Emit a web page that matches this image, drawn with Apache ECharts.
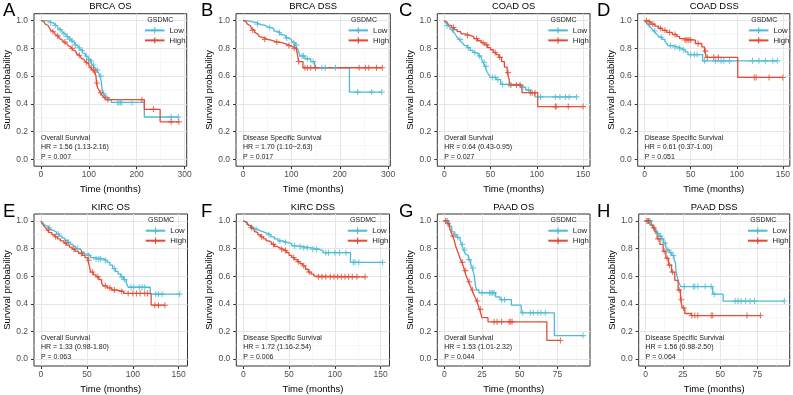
<!DOCTYPE html>
<html><head><meta charset="utf-8">
<script src="https://cdn.jsdelivr.net/npm/echarts@6/dist/echarts.min.js"></script>
<style>html,body{margin:0;padding:0;background:#fff}#c{width:793px;height:395px}</style>
</head><body><div id="c"></div>
<script>
// ---------- text ----------
const panelLetters = ['A','B','C','D','E','F','G','H'];
const panelTitles = ['BRCA OS','BRCA DSS','COAD OS','COAD DSS','KIRC OS','KIRC DSS','PAAD OS','PAAD DSS'];
const survivalLabels = ['Overall Survival','Disease Specific Survival','Overall Survival','Disease Specific Survival','Overall Survival','Disease Specific Survival','Overall Survival','Disease Specific Survival'];
const hrLabels = ['HR = 1.56 (1.13-2.16)','HR = 1.70 (1.10\u22122.63)','HR = 0.64 (0.43-0.95)','HR = 0.61 (0.37-1.00)','HR = 1.33 (0.98-1.80)','HR = 1.72 (1.16-2.54)','HR = 1.53 (1.01-2.32)','HR = 1.56 (0.98-2.50)'];
const pLabels = ['P = 0.007','P = 0.017','P = 0.027','P = 0.051','P = 0.063','P = 0.006','P = 0.044','P = 0.064'];
const groupNames = ['Low','High'];
const legendTitle = 'GSDMC';
const xAxisTitle = 'Time (months)';
const yAxisTitle = 'Survival probability';

// ---------- ticks ----------
const xTicks300 = [0,100,200,300];
const xMinor300 = [50,150,250];
const xTicks150 = [0,50,100,150];
const xMinor150 = [25,75,125];
const xTicks75 = [0,25,50,75];
const xMinor75 = [12.5,37.5,62.5,87.5];
const yTicks = [0,0.2,0.4,0.6,0.8,1.0];
const yMinor = [0.1,0.3,0.5,0.7,0.9];

// ---------- data: [time, survival] steps and censor marks ----------
const brcaOsLow = [[0,1],[14,0.995],[18,0.99],[21,0.985],[24,0.98],[27,0.97],[30,0.965],[33,0.955],[36,0.945],[39,0.935],[42,0.925],[45,0.915],[48,0.905],[51,0.895],[54,0.885],[57,0.875],[60,0.865],[63,0.855],[66,0.845],[69,0.835],[72,0.825],[75,0.815],[78,0.805],[81,0.795],[84,0.785],[87,0.77],[90,0.76],[93,0.745],[96,0.735],[99,0.72],[102,0.71],[105,0.695],[108,0.68],[112,0.665],[116,0.645],[120,0.625],[123,0.6],[126,0.565],[128,0.5],[130,0.475],[133,0.46],[137,0.445],[142,0.43],[147,0.41],[216,0.305],[287,0.305]];
const brcaOsLowCens = [[20,0.985],[30,0.965],[40,0.935],[48,0.905],[55,0.885],[60,0.865],[65,0.855],[72,0.825],[80,0.805],[86,0.785],[95,0.745],[100,0.72],[104,0.71],[110,0.68],[118,0.645],[125,0.6],[131,0.475],[138,0.445],[160,0.41],[163,0.41],[166,0.41],[169,0.41],[190,0.41],[272,0.305],[287,0.305]];
const brcaOsHigh = [[0,1],[3,0.995],[6,0.985],[9,0.975],[12,0.965],[15,0.955],[18,0.945],[21,0.93],[24,0.92],[27,0.91],[30,0.9],[33,0.89],[36,0.88],[39,0.87],[42,0.86],[45,0.855],[48,0.845],[51,0.835],[54,0.83],[57,0.82],[60,0.81],[63,0.8],[66,0.79],[69,0.78],[72,0.77],[75,0.76],[78,0.75],[81,0.74],[84,0.73],[87,0.72],[90,0.71],[93,0.7],[96,0.69],[100,0.675],[104,0.66],[108,0.645],[112,0.63],[115,0.6],[116,0.55],[118,0.52],[121,0.5],[124,0.48],[128,0.46],[132,0.445],[136,0.43],[216,0.36],[249,0.27],[288,0.27]];
const brcaOsHighCens = [[25,0.92],[35,0.89],[50,0.845],[65,0.8],[80,0.75],[95,0.7],[105,0.66],[110,0.645],[113,0.63],[117,0.55],[125,0.48],[134,0.445],[140,0.43],[211,0.43],[235,0.36],[272,0.27],[288,0.27]];

const brcaDssLow = [[0,1],[8,0.995],[15,0.99],[22,0.985],[28,0.975],[34,0.97],[40,0.965],[46,0.955],[52,0.95],[58,0.94],[64,0.925],[70,0.915],[76,0.9],[82,0.89],[88,0.875],[94,0.865],[100,0.85],[104,0.84],[108,0.825],[112,0.8],[115,0.775],[118,0.745],[128,0.725],[140,0.705],[148,0.66],[220,0.485],[287,0.485]];
const brcaDssLowCens = [[30,0.975],[55,0.95],[75,0.915],[90,0.875],[105,0.84],[110,0.825],[122,0.745],[125,0.745],[133,0.725],[145,0.705],[163,0.66],[170,0.66],[191,0.66],[237,0.485],[266,0.485],[287,0.485]];
const brcaDssHigh = [[0,1],[3,0.995],[6,0.985],[9,0.975],[12,0.965],[15,0.955],[18,0.94],[21,0.93],[24,0.915],[27,0.905],[30,0.895],[34,0.885],[38,0.875],[44,0.865],[50,0.86],[58,0.85],[66,0.845],[74,0.84],[82,0.83],[90,0.82],[98,0.81],[104,0.8],[110,0.79],[113,0.745],[115,0.705],[124,0.66],[288,0.66]];
const brcaDssHighCens = [[20,0.93],[45,0.865],[70,0.845],[95,0.82],[106,0.8],[115,0.705],[128,0.66],[133,0.66],[140,0.66],[150,0.66],[240,0.66],[253,0.66],[260,0.66],[276,0.66],[288,0.66]];

const coadOsLow = [[0,1],[1,0.99],[2,0.98],[4,0.965],[6,0.95],[8,0.935],[10,0.92],[12,0.9],[14,0.88],[16,0.865],[18,0.85],[20,0.835],[22,0.82],[25,0.805],[28,0.785],[31,0.77],[34,0.76],[37,0.745],[40,0.725],[42,0.7],[44,0.67],[46,0.635],[48,0.61],[50,0.59],[56,0.575],[61,0.54],[82,0.52],[88,0.5],[93,0.48],[98,0.45],[143,0.45]];
const coadOsLowCens = [[3,0.965],[9,0.935],[17,0.865],[26,0.805],[33,0.77],[38,0.745],[43,0.7],[45,0.67],[52,0.59],[55,0.59],[58,0.575],[63,0.54],[70,0.54],[85,0.52],[91,0.5],[104,0.45],[120,0.45],[125,0.45],[131,0.45],[135,0.45],[143,0.45]];
const coadOsHigh = [[0,1],[1,0.99],[3,0.98],[5,0.965],[8,0.95],[11,0.935],[14,0.92],[18,0.905],[22,0.895],[27,0.885],[32,0.87],[36,0.855],[40,0.84],[44,0.825],[47,0.805],[50,0.79],[53,0.77],[56,0.755],[59,0.735],[62,0.705],[65,0.665],[68,0.625],[70,0.58],[71,0.535],[84,0.48],[101,0.38],[150,0.38]];
const coadOsHighCens = [[10,0.95],[25,0.895],[35,0.87],[42,0.84],[46,0.825],[55,0.77],[60,0.735],[69,0.625],[72,0.535],[78,0.535],[82,0.535],[93,0.48],[95,0.48],[98,0.48],[120,0.38],[121,0.38],[134,0.38],[150,0.38]];

const coadDssLow = [[0,1],[2,0.985],[4,0.97],[6,0.955],[8,0.94],[10,0.925],[12,0.91],[14,0.895],[16,0.88],[19,0.865],[22,0.85],[24,0.835],[26,0.82],[30,0.81],[36,0.8],[40,0.79],[44,0.775],[47,0.755],[63,0.71],[144,0.71]];
const coadDssLowCens = [[5,0.97],[11,0.925],[18,0.88],[28,0.82],[33,0.81],[38,0.8],[42,0.79],[50,0.755],[54,0.755],[57,0.755],[65,0.71],[77,0.71],[83,0.71],[86,0.71],[92,0.71],[117,0.71],[124,0.71],[131,0.71],[139,0.71],[144,0.71]];
const coadDssHigh = [[0,1],[3,0.99],[7,0.975],[11,0.96],[15,0.945],[19,0.93],[24,0.915],[30,0.9],[35,0.885],[38,0.87],[42,0.86],[55,0.835],[62,0.81],[65,0.78],[67,0.735],[101,0.59],[150,0.59]];
const coadDssHighCens = [[2,1],[5,0.99],[9,0.975],[17,0.945],[22,0.93],[27,0.915],[33,0.9],[44,0.86],[46,0.86],[48,0.86],[50,0.86],[58,0.835],[66,0.78],[68,0.735],[75,0.735],[80,0.735],[119,0.59],[121,0.59],[135,0.59],[150,0.59]];

const kircOsLow = [[0,1],[2,0.985],[4,0.97],[6,0.96],[8,0.95],[10,0.94],[12,0.93],[14,0.92],[17,0.905],[20,0.89],[23,0.875],[26,0.86],[29,0.845],[32,0.83],[35,0.815],[38,0.8],[41,0.79],[44,0.775],[47,0.76],[50,0.75],[54,0.735],[58,0.725],[68,0.715],[72,0.7],[75,0.68],[78,0.655],[81,0.635],[84,0.615],[87,0.595],[90,0.575],[93,0.55],[95,0.52],[119,0.47],[151,0.47]];
const kircOsLowCens = [[9,0.95],[19,0.905],[30,0.845],[40,0.8],[52,0.75],[60,0.725],[63,0.725],[65,0.725],[70,0.715],[80,0.655],[88,0.595],[91,0.575],[98,0.52],[101,0.52],[107,0.52],[110,0.52],[113,0.52],[125,0.47],[128,0.47],[132,0.47],[151,0.47]];
const kircOsHigh = [[0,1],[1,0.985],[3,0.965],[5,0.95],[7,0.935],[9,0.915],[12,0.9],[15,0.885],[18,0.87],[21,0.855],[25,0.84],[28,0.825],[31,0.81],[34,0.795],[37,0.78],[41,0.765],[45,0.75],[48,0.735],[51,0.715],[53,0.665],[54,0.63],[57,0.61],[60,0.595],[63,0.575],[66,0.55],[68,0.53],[72,0.515],[77,0.5],[82,0.49],[90,0.475],[120,0.39],[135,0.39]];
const kircOsHighCens = [[8,0.935],[16,0.885],[27,0.84],[36,0.795],[44,0.765],[52,0.715],[56,0.63],[62,0.595],[70,0.53],[75,0.515],[80,0.5],[88,0.49],[95,0.475],[100,0.475],[104,0.475],[108,0.475],[113,0.475],[116,0.475],[124,0.39],[128,0.39],[135,0.39]];

const kircDssLow = [[0,1],[2,0.99],[4,0.98],[6,0.97],[8,0.96],[10,0.95],[12,0.94],[15,0.93],[18,0.92],[22,0.91],[26,0.9],[30,0.885],[34,0.87],[38,0.855],[43,0.845],[48,0.835],[53,0.82],[58,0.815],[64,0.805],[74,0.795],[83,0.785],[87,0.77],[117,0.7],[152,0.7]];
const kircDssLowCens = [[14,0.94],[28,0.9],[40,0.855],[46,0.845],[56,0.82],[62,0.815],[66,0.805],[70,0.805],[76,0.795],[80,0.795],[90,0.77],[93,0.77],[100,0.77],[105,0.77],[112,0.77],[120,0.7],[122,0.7],[126,0.7],[152,0.7]];
const kircDssHigh = [[0,1],[2,0.99],[4,0.975],[6,0.965],[8,0.95],[10,0.94],[12,0.925],[14,0.915],[16,0.9],[19,0.885],[22,0.87],[25,0.855],[28,0.845],[31,0.83],[34,0.815],[37,0.805],[40,0.795],[44,0.785],[47,0.77],[50,0.75],[53,0.735],[56,0.72],[59,0.705],[62,0.69],[65,0.675],[68,0.65],[71,0.63],[74,0.615],[77,0.6],[80,0.595],[133,0.595]];
const kircDssHighCens = [[9,0.95],[20,0.885],[33,0.83],[42,0.795],[46,0.785],[55,0.735],[60,0.705],[66,0.675],[72,0.63],[82,0.595],[86,0.595],[90,0.595],[95,0.595],[99,0.595],[103,0.595],[107,0.595],[111,0.595],[115,0.595],[119,0.595],[124,0.595],[133,0.595]];

const paadOsLow = [[0,1],[3,0.96],[5,0.92],[7,0.9],[8.5,0.88],[10.5,0.86],[11.5,0.83],[12.8,0.79],[14,0.76],[15,0.75],[16,0.72],[17.5,0.69],[18.5,0.66],[19.5,0.62],[20.2,0.58],[20.7,0.53],[21.5,0.5],[23,0.48],[34,0.45],[37,0.43],[44.5,0.39],[51,0.335],[73,0.17],[92,0.17]];
const paadOsLowCens = [[1,1],[2,1],[9,0.88],[12,0.83],[13.5,0.79],[16.5,0.72],[19,0.66],[25,0.48],[30,0.48],[31,0.48],[32,0.48],[33,0.48],[38,0.43],[40,0.43],[52,0.335],[57,0.335],[59,0.335],[62,0.335],[64,0.335],[67,0.335],[92,0.17]];
const paadOsHigh = [[0,1],[2,0.98],[3.5,0.95],[4.5,0.92],[5.5,0.89],[6.6,0.86],[7.5,0.82],[8.5,0.79],[9.5,0.76],[10.5,0.73],[11.7,0.7],[12.7,0.67],[13.5,0.64],[14.3,0.61],[15.2,0.585],[16.2,0.56],[17.2,0.53],[18.3,0.5],[19.5,0.47],[20.5,0.445],[21.5,0.42],[22.5,0.39],[23.4,0.36],[24.2,0.33],[25,0.3],[29,0.27],[68,0.135],[77,0.135]];
const paadOsHighCens = [[1,1],[2.5,0.98],[6,0.89],[12,0.7],[14,0.64],[16.5,0.56],[18.8,0.5],[22,0.42],[24,0.36],[33,0.27],[35,0.27],[38,0.27],[43,0.27],[44,0.27],[45,0.27],[77,0.135]];

const paadDssLow = [[0,1],[4,0.97],[5.5,0.94],[7,0.91],[9,0.89],[10.5,0.87],[12,0.84],[13.5,0.81],[14.5,0.79],[16,0.77],[17.5,0.75],[19,0.72],[20,0.7],[20.5,0.63],[21.5,0.58],[22.5,0.55],[23.5,0.525],[45,0.47],[52,0.42],[93,0.42]];
const paadDssLowCens = [[1,1],[2,1],[3,1],[8,0.91],[10,0.89],[11,0.87],[13,0.84],[15,0.79],[17,0.77],[18.5,0.75],[26,0.525],[32,0.525],[33,0.525],[35,0.525],[40,0.525],[44,0.525],[46,0.47],[60,0.42],[62,0.42],[64,0.42],[67,0.42],[70,0.42],[73,0.42],[93,0.42]];
const paadDssHigh = [[0,1],[3,0.97],[4.7,0.95],[6.2,0.92],[7.8,0.87],[9.6,0.83],[11.8,0.78],[13.6,0.73],[15.4,0.68],[17.4,0.63],[19.6,0.57],[21.8,0.5],[23.4,0.43],[24.7,0.37],[26.3,0.33],[30.7,0.315],[77,0.315]];
const paadDssHighCens = [[1,1],[2,1],[5.5,0.95],[8.5,0.87],[12.5,0.78],[14.5,0.73],[16,0.68],[18,0.63],[22.5,0.5],[24,0.43],[25.5,0.37],[31,0.315],[33,0.315],[35,0.315],[44,0.315],[45,0.315],[68,0.315],[77,0.315]];

// ---------- assembly ----------
const lowSteps = [brcaOsLow, brcaDssLow, coadOsLow, coadDssLow, kircOsLow, kircDssLow, paadOsLow, paadDssLow];
const lowCens = [brcaOsLowCens, brcaDssLowCens, coadOsLowCens, coadDssLowCens, kircOsLowCens, kircDssLowCens, paadOsLowCens, paadDssLowCens];
const highSteps = [brcaOsHigh, brcaDssHigh, coadOsHigh, coadDssHigh, kircOsHigh, kircDssHigh, paadOsHigh, paadDssHigh];
const highCens = [brcaOsHighCens, brcaDssHighCens, coadOsHighCens, coadDssHighCens, kircOsHighCens, kircDssHighCens, paadOsHighCens, paadDssHighCens];
const xTicksPer = [xTicks300, xTicks300, xTicks150, xTicks150, xTicks150, xTicks150, xTicks75, xTicks75];
const xMinorPer = [xMinor300, xMinor300, xMinor150, xMinor150, xMinor150, xMinor150, xMinor75, xMinor75];

// layout (pixels / axis extents)
const gridLefts = [34, 236, 437.3, 637.7, 34, 236.3, 437.3, 638.7];
const gridWidths = [152.7, 154.3, 152.7, 152.9, 153.5, 153.2, 152.7, 151];
const gridTops = [13.7, 13.7, 13.7, 13.7, 214, 214, 214, 214];
const gridHeights = [152.5, 152.5, 152.5, 152.5, 152, 152, 152, 152];
const xExtents = [[-14.5,304.5],[-14.5,304.5],[-7.5,157.5],[-7.5,157.5],[-7.6,159.6],[-7.6,159.6],[-4.6,96.6],[-4.6,96.6]];
const letterLefts = [3, 201, 399, 597, 3, 201, 399, 597];

const LOW = '#4DBBD5', HIGH = '#E64B35';
const FONT = '"Liberation Sans", Arial, Helvetica, sans-serif';
const PLUS = 'path://M4.1,0H5.9V4.1H10V5.9H5.9V10H4.1V5.9H0V4.1H4.1Z';

const grids = [], xAxes = [], yAxes = [], series = [], legends = [], graphics = [];
const minorX = [], minorY = [];

for (let i = 0; i < 8; i++) {
  const gl = gridLefts[i], gw = gridWidths[i], gt = gridTops[i], gh = gridHeights[i];
  const [x0, x1] = xExtents[i];
  grids.push({left: gl, top: gt, width: gw, height: gh, show: true, borderColor: '#333', borderWidth: 1, backgroundColor: '#fff', containLabel: false});
  xAxes.push({
    type: 'value', gridIndex: i, min: x0, max: x1, position: 'bottom',
    axisLine: {show: false, onZero: false},
    axisTick: {show: true, length: 3, lineStyle: {color: '#333', width: 1}, customValues: xTicksPer[i]},
    axisLabel: {customValues: xTicksPer[i], fontSize: 8.5, color: '#4D4D4D', margin: 4, fontFamily: FONT, formatter: v => String(v)},
    splitLine: {show: true, lineStyle: {color: '#E6E6E6', width: 1}},
    name: xAxisTitle, nameLocation: 'middle', nameGap: 18,
    nameTextStyle: {fontSize: 9.5, color: '#000', fontFamily: FONT}
  });
  minorX.push({
    type: 'value', gridIndex: i, min: x0, max: x1, position: 'bottom',
    axisLine: {show: false, onZero: false}, axisTick: {show: false, customValues: xMinorPer[i]},
    axisLabel: {show: false, customValues: xMinorPer[i]},
    splitLine: {show: true, lineStyle: {color: '#F1F1F1', width: 0.6}}
  });
  yAxes.push({
    type: 'value', gridIndex: i, min: -0.05, max: 1.05, position: 'left',
    axisLine: {show: false, onZero: false},
    axisTick: {show: true, length: 3, lineStyle: {color: '#333', width: 1}, customValues: yTicks},
    axisLabel: {customValues: yTicks, fontSize: 8.5, color: '#4D4D4D', margin: 6, fontFamily: FONT, formatter: v => Number(v).toFixed(1)},
    splitLine: {show: true, lineStyle: {color: '#E6E6E6', width: 1}},
    name: yAxisTitle, nameLocation: 'middle', nameGap: 19.5,
    nameTextStyle: {fontSize: 9.5, color: '#000', fontFamily: FONT}
  });
  minorY.push({
    type: 'value', gridIndex: i, min: -0.05, max: 1.05, position: 'left',
    axisLine: {show: false, onZero: false}, axisTick: {show: false, customValues: yMinor},
    axisLabel: {show: false, customValues: yMinor},
    splitLine: {show: true, lineStyle: {color: '#F1F1F1', width: 0.6}}
  });

  series.push({type: 'line', name: groupNames[0], xAxisIndex: i, yAxisIndex: i, data: lowSteps[i], step: 'end',
    symbol: PLUS, showSymbol: false, lineStyle: {color: LOW, width: 1.3}, itemStyle: {color: LOW}, z: 3, silent: true, animation: false});
  series.push({type: 'line', name: groupNames[1], xAxisIndex: i, yAxisIndex: i, data: highSteps[i], step: 'end',
    symbol: PLUS, showSymbol: false, lineStyle: {color: HIGH, width: 1.3}, itemStyle: {color: HIGH}, z: 4, silent: true, animation: false});

  legends.push({
    orient: 'vertical', left: gl + gw - 42.7, top: gt + 16.7 - 4, padding: 0,
    itemWidth: 19.5, itemHeight: 8, itemGap: 2, selectedMode: false,
    data: groupNames, textStyle: {fontSize: 7.8, color: '#222', fontFamily: FONT}
  });

  const tx = (v) => gl + (v - x0) / (x1 - x0) * gw;
  const txt = (text, x, y, size, align, color) => ({type: 'text', x: x, y: y, silent: true, z: 100,
    style: {text: text, fontSize: size, fontFamily: FONT, fill: color || '#000', align: align, textAlign: align, verticalAlign: 'middle', textVerticalAlign: 'middle'}});
  graphics.push(txt(panelLetters[i], letterLefts[i], gt - 2.5, 18.5, 'left'));
  graphics.push(txt(panelTitles[i], gl + gw / 2, gt - 7, 9.4, 'center'));
  graphics.push(txt(legendTitle, gl + gw - 39.4, gt + 6.5, 7, 'left', '#222'));
  const bottom = gt + gh;
  graphics.push(txt(survivalLabels[i], tx(0), bottom - 28.2, 7, 'left', '#222'));
  graphics.push(txt(hrLabels[i], tx(0), bottom - 18.8, 7, 'left', '#222'));
  graphics.push(txt(pLabels[i], tx(0), bottom - 9.4, 7, 'left', '#222'));
}
for (let i = 0; i < 8; i++) {
  series.push({type: 'scatter', name: groupNames[0] + ' censored', xAxisIndex: i, yAxisIndex: i, data: lowCens[i],
    symbol: PLUS, symbolSize: 6, itemStyle: {color: LOW}, z: 5, silent: true, animation: false});
  series.push({type: 'scatter', name: groupNames[1] + ' censored', xAxisIndex: i, yAxisIndex: i, data: highCens[i],
    symbol: PLUS, symbolSize: 6, itemStyle: {color: HIGH}, z: 6, silent: true, animation: false});
}

const chart = echarts.init(document.getElementById('c'), null, {renderer: 'canvas', width: 793, height: 395});
chart.setOption({
  animation: false,
  backgroundColor: '#fff',
  grid: grids,
  xAxis: xAxes.concat(minorX),
  yAxis: yAxes.concat(minorY),
  legend: legends,
  series: series,
  graphic: {elements: graphics}
});
</script></body></html>
